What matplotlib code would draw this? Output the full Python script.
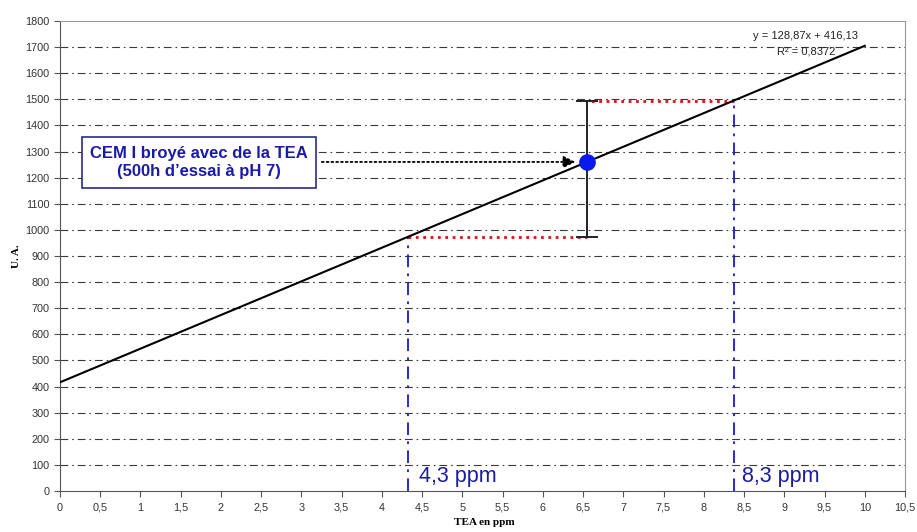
import matplotlib
matplotlib.use('Agg')
import matplotlib.pyplot as plt

# calibration line y = a x + b
slope = 128.87
intercept = 416.13
line_x = [0, 10]

# measured point and error bar
point_x = 6.55
point_y = 1260
err_low = 973
err_high = 1494
ppm_low = 4.32
ppm_high = 8.37

x_ticks = [i * 0.5 for i in range(22)]
x_labels = [('%g' % v).replace('.', ',') for v in x_ticks]
y_ticks = list(range(0, 1900, 100))

plt.rcParams['font.family'] = 'Liberation Sans'

fig = plt.figure(figsize=(9.17, 5.32), dpi=100)
ax = fig.add_axes([0.0654, 0.0771, 0.9215, 0.8835])

grid_style = (0, (7, 3.5, 1.5, 3.5))
for v in y_ticks[1:-1]:
    ax.axhline(v, color='#3a3a3a', linestyle=grid_style, linewidth=0.8, zorder=1)

ly = [slope * v + intercept for v in line_x]
ax.plot(line_x, ly, color='black', linewidth=1.5, zorder=3)

# blue vertical dash-dot lines
for p in [ppm_low, ppm_high]:
    ax.plot([p, p], [0, slope * p + intercept], color='#1a1acc',
            linestyle=grid_style, linewidth=1.3, zorder=2)

# red dotted horizontal lines
ax.plot([ppm_low, point_x], [err_low, err_low], color='#dd1111', linestyle=':', linewidth=2, zorder=2)
ax.plot([ppm_high, point_x], [err_high, err_high], color='#dd1111', linestyle=':', linewidth=2, zorder=2)

# error bar + point
ax.errorbar([point_x], [point_y], yerr=[[point_y - err_low], [err_high - point_y]],
            fmt='o', color='black', ecolor='#222222', elinewidth=1.4, capsize=8, capthick=1.4,
            markersize=11, markerfacecolor='#0a1aee', markeredgecolor='#0a1aee', zorder=5)

# annotation box and arrow
ax.annotate('', xy=(point_x - 0.11, point_y), xytext=(3.22, point_y),
            arrowprops=dict(arrowstyle='-|>', color='black', linestyle=':', linewidth=1.3,
                            mutation_scale=18), zorder=4)
ax.text(1.73, 1258, 'CEM I broyé avec de la TEA\n(500h d\u2019essai à pH 7)', ha='center', va='center',
        fontsize=12, fontweight='bold', color='#1a1aa8', linespacing=1.3,
        bbox=dict(boxstyle='square,pad=0.5', facecolor='white', edgecolor='#2a2a90', linewidth=1.2),
        zorder=6)

ax.text(4.46, 54, '4,3 ppm', color='#1a1aa8', fontsize=15.5, ha='left', va='center')
ax.text(8.47, 54, '8,3 ppm', color='#1a1aa8', fontsize=15.5, ha='left', va='center')

ax.text(9.27, 1743, 'y = 128,87x + 416,13', fontsize=8, ha='center', va='center', color='#222222')
ax.text(9.27, 1682, 'R² = 0,8372', fontsize=8, ha='center', va='center', color='#222222')

ax.set_xlim(0, 10.5)
ax.set_ylim(0, 1800)
ax.set_xticks(x_ticks)
ax.set_xticklabels([])
ax.set_yticks(y_ticks)
ax.tick_params(labelsize=7.8, direction='out', length=4, color='#555555', labelcolor='#333333')

# x tick labels on a common baseline (commas otherwise shift them)
for v, lab in zip(x_ticks, x_labels):
    ax.annotate(lab, xy=(v, 0), xycoords=('data', 'axes fraction'), xytext=(0, -20),
                textcoords='offset pixels', ha='center', va='baseline',
                fontsize=7.8, color='#333333', annotation_clip=False)

for s in ax.spines.values():
    s.set_color('#999999')
ax.spines['left'].set_color('#555555')
ax.spines['bottom'].set_color('#555555')

fig.text(0.528, 0.017, 'TEA en ppm', fontsize=8, fontweight='bold', family='Liberation Serif',
         ha='center', va='center')
ax.set_ylabel('U. A.', fontsize=8, fontweight='bold', family='Liberation Serif', labelpad=3)

fig.savefig('out.png', dpi=100)
